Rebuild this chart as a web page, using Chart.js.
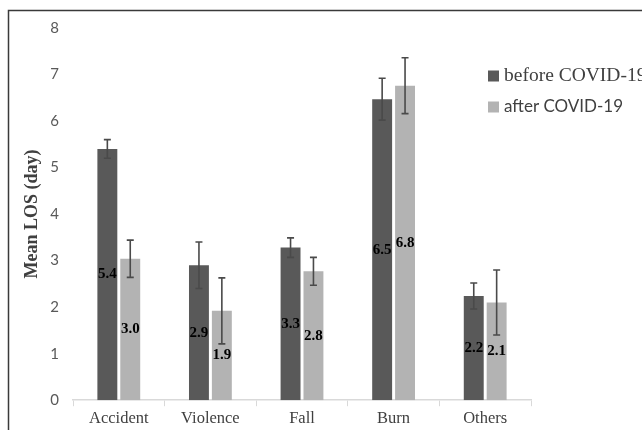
<!doctype html>
<html lang="en">
<head>
    <meta charset="utf-8">
    <title>Mean LOS before / after COVID-19</title>
    <script src="https://cdn.jsdelivr.net/npm/chart.js@4.4.0/dist/chart.umd.min.js"></script>
    <style>
        html, body { margin: 0; padding: 0; background: #fff; overflow: hidden; }
        #wrap { position: relative; width: 642px; height: 440px; }
    </style>
</head>
<body>
<div id="wrap">
    <canvas id="chart" width="642" height="440"></canvas>
</div>
<script>
    // data
    let categories = ['Accident', 'Violence', 'Fall', 'Burn', 'Others'];
    let seriesNames = ['before COVID-19', 'after COVID-19'];
    let before = [5.4, 2.9, 3.28, 6.47, 2.24];
    let after = [3.04, 1.92, 2.77, 6.76, 2.1];
    // half-width of the error bars
    let beforeErr = [0.2, 0.5, 0.21, 0.45, 0.28];
    let afterErr = [0.4, 0.71, 0.3, 0.6, 0.7];
    let yTicks = [0, 1, 2, 3, 4, 5, 6, 7, 8];

    const darkGrey = '#595959';
    const lightGrey = '#b3b3b3';
    const errs = [beforeErr, afterErr];

    // border round the figure (left and top only, rest is cropped)
    const framePlugin = {
        id: 'frame',
        beforeDraw(chart) {
            let ctx = chart.ctx;
            ctx.save();
            ctx.strokeStyle = '#3a3a3a';
            ctx.lineWidth = 1.5;
            ctx.beginPath();
            ctx.moveTo(8.5, 440);
            ctx.lineTo(8.5, 10.5);
            ctx.lineTo(642, 10.5);
            ctx.stroke();
            ctx.restore();
        }
    };

    // error bars + value labels in the middle of each bar
    const errorPlugin = {
        id: 'errorbars',
        afterDatasetsDraw(chart) {
            let ctx = chart.ctx;
            let y = chart.scales.y;
            ctx.save();
            chart.data.datasets.forEach((ds, i) => {
                let meta = chart.getDatasetMeta(i);
                meta.data.forEach((bar, j) => {
                    let v = ds.data[j];
                    let e = errs[i][j];
                    let top = y.getPixelForValue(v + e);
                    let bot = y.getPixelForValue(v - e);
                    ctx.strokeStyle = '#4a4a4a';
                    ctx.lineWidth = 1.6;
                    ctx.beginPath();
                    ctx.moveTo(bar.x, top);
                    ctx.lineTo(bar.x, bot);
                    ctx.moveTo(bar.x - 3.5, top);
                    ctx.lineTo(bar.x + 3.5, top);
                    ctx.moveTo(bar.x - 3.5, bot);
                    ctx.lineTo(bar.x + 3.5, bot);
                    ctx.stroke();
                });
            });
            chart.data.datasets.forEach((ds, i) => {
                let meta = chart.getDatasetMeta(i);
                meta.data.forEach((bar, j) => {
                    ctx.fillStyle = '#000';
                    ctx.font = 'bold 15px "Liberation Serif", "Times New Roman", serif';
                    ctx.textAlign = 'center';
                    ctx.textBaseline = 'middle';
                    ctx.fillText(ds.data[j].toFixed(1), bar.x, (bar.y + bar.base) / 2);
                });
            });
            ctx.restore();
        }
    };

    // legend on the right, first entry serif and second sans like the original
    const legendPlugin = {
        id: 'sideLegend',
        afterDraw(chart) {
            let ctx = chart.ctx;
            let items = [
                { text: seriesNames[0], color: darkGrey, font: '19.5px "Liberation Serif", serif', y: 76 },
                { text: seriesNames[1], color: lightGrey, font: '17px Lato, sans-serif', y: 107 }
            ];
            ctx.save();
            items.forEach(it => {
                ctx.fillStyle = it.color;
                ctx.fillRect(488, it.y - 5.5, 11, 11);
                ctx.fillStyle = '#404040';
                ctx.font = it.font;
                ctx.textAlign = 'left';
                ctx.textBaseline = 'middle';
                ctx.fillText(it.text, 504, it.y);
            });
            ctx.restore();
        }
    };

    new Chart(document.getElementById('chart'), {
        type: 'bar',
        data: {
            labels: categories,
            datasets: [{
                label: seriesNames[0],
                data: before,
                backgroundColor: darkGrey,
                categoryPercentage: 0.5,
                barPercentage: 0.87
            }, {
                label: seriesNames[1],
                data: after,
                backgroundColor: lightGrey,
                categoryPercentage: 0.5,
                barPercentage: 0.87
            }]
        },
        options: {
            responsive: false,
            animation: false,
            layout: { padding: { top: 28, right: 111, bottom: 8, left: 22 } },
            plugins: {
                legend: { display: false },
                tooltip: { enabled: false }
            },
            scales: {
                x: {
                    grid: {
                        display: true,
                        drawOnChartArea: false,
                        color: '#d9d9d9',
                        tickLength: 6
                    },
                    border: { color: '#d9d9d9', width: 1.5 },
                    ticks: {
                        color: '#404040',
                        font: { family: '"Liberation Serif", "Times New Roman", serif', size: 16.5 },
                        padding: 3
                    }
                },
                y: {
                    min: 0,
                    max: 8,
                    afterBuildTicks: (axis) => { axis.ticks = yTicks.map(v => ({ value: v })); },
                    afterFit: (axis) => { axis.width = 51; },
                    grid: { display: false },
                    border: { display: false },
                    ticks: {
                        color: '#595959',
                        font: { family: 'Lato, sans-serif', size: 15 },
                        padding: 6
                    },
                    title: {
                        display: true,
                        text: 'Mean LOS (day)',
                        color: '#404040',
                        font: { family: '"Liberation Serif", "Times New Roman", serif', size: 18, weight: 'bold' },
                        padding: { top: 0, bottom: 9 }
                    }
                }
            }
        },
        plugins: [framePlugin, errorPlugin, legendPlugin]
    });
</script>
</body>
</html>
